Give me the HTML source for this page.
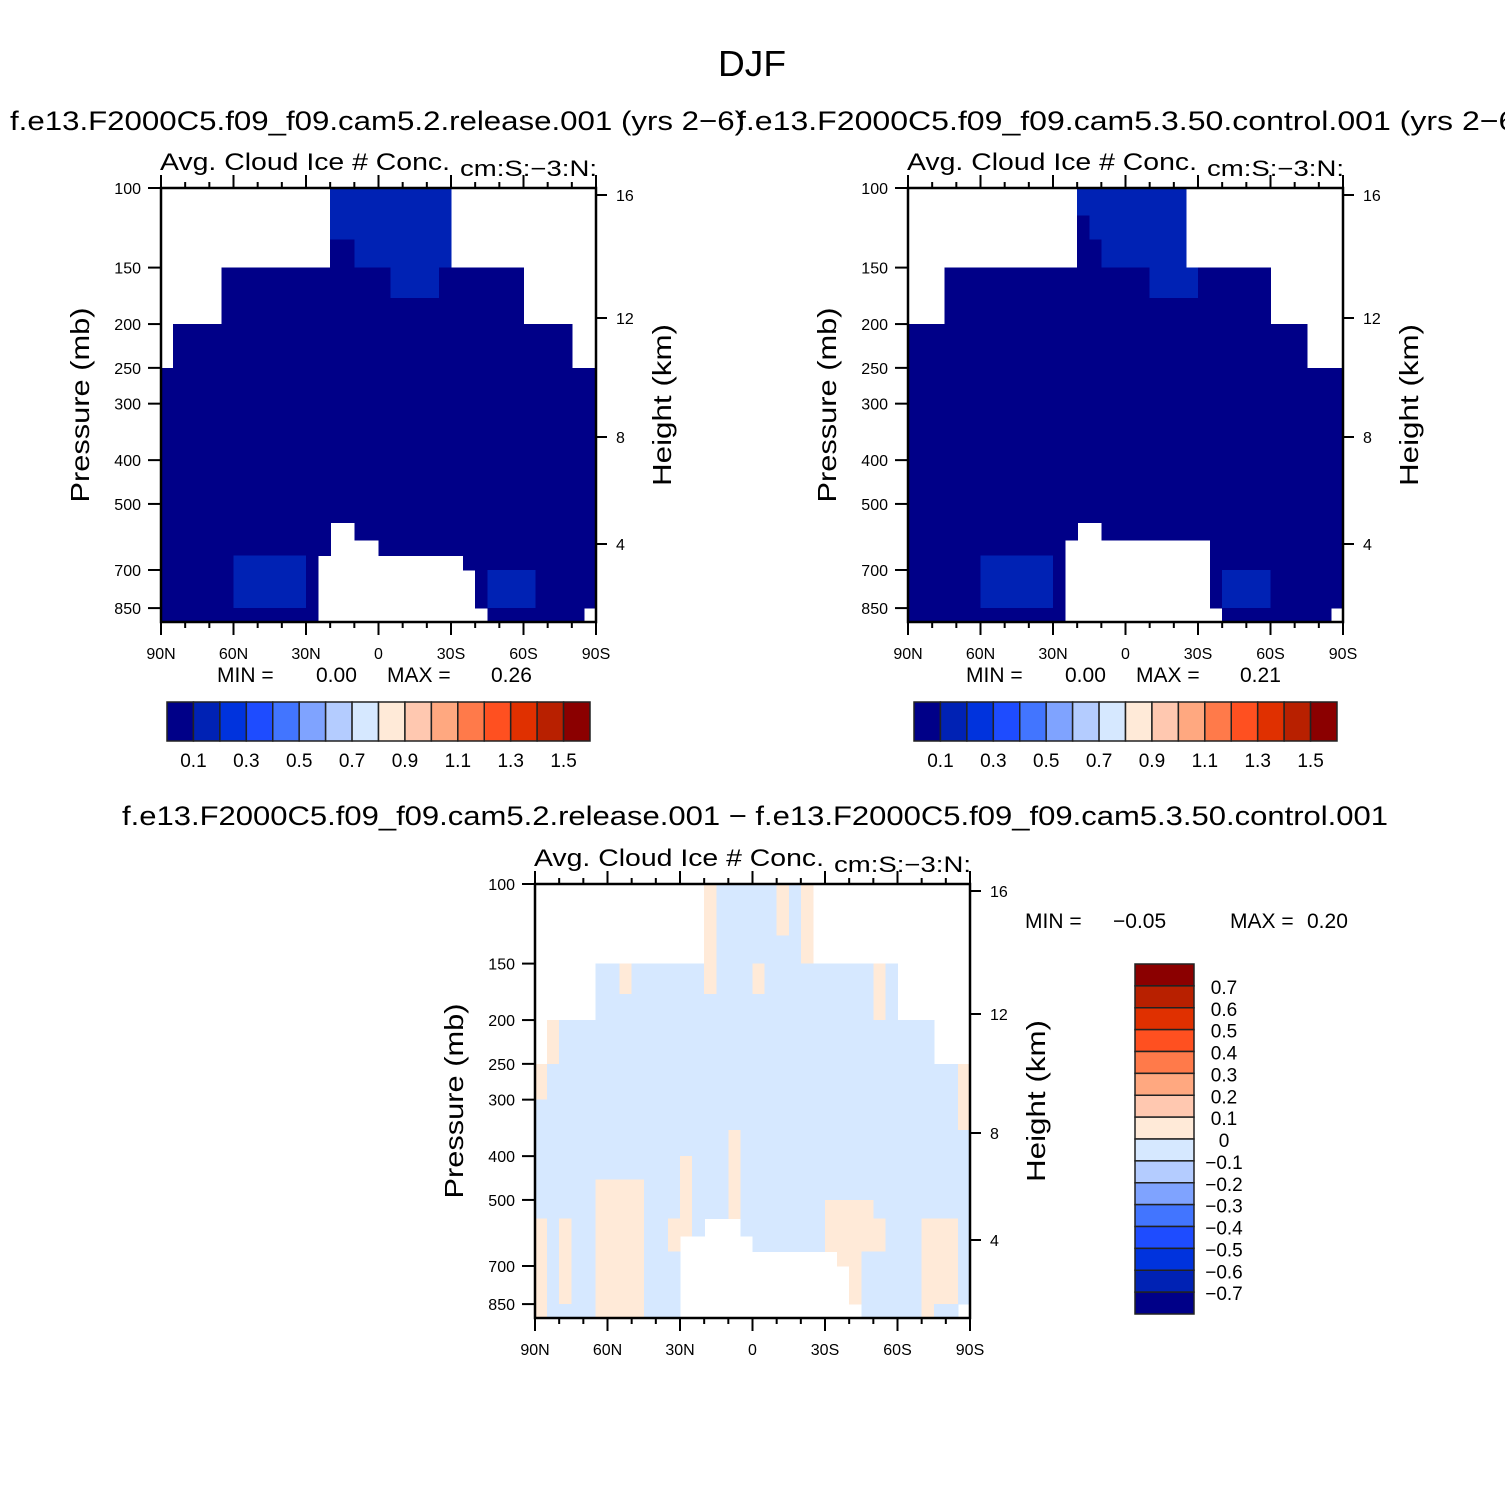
<!DOCTYPE html>
<html><head><meta charset="utf-8"><style>
html,body{margin:0;padding:0;background:#fff}
svg{display:block}
text{font-family:"Liberation Sans",sans-serif;fill:#000}
</style></head><body>
<svg id="chart" width="1505" height="1505" viewBox="0 0 1505 1505" xmlns="http://www.w3.org/2000/svg">
<rect width="1505" height="1505" fill="#fff"/>
<text x="752" y="76" text-anchor="middle" font-size="36" textLength="68" lengthAdjust="spacingAndGlyphs">DJF</text>
<text x="10" y="130" font-size="27" textLength="735" lengthAdjust="spacingAndGlyphs">f.e13.F2000C5.f09_f09.cam5.2.release.001  (yrs 2−6)</text>
<text x="737" y="130" font-size="27" textLength="790" lengthAdjust="spacingAndGlyphs">f.e13.F2000C5.f09_f09.cam5.3.50.control.001  (yrs 2−6)</text>
<text x="122" y="825" font-size="27" textLength="1266" lengthAdjust="spacingAndGlyphs">f.e13.F2000C5.f09_f09.cam5.2.release.001  −  f.e13.F2000C5.f09_f09.cam5.3.50.control.001</text>
<g id="layer"></g>
</svg>
<script>
// ---- data ----
const pressureEdges=[100,115,130,150,175,200,225,250,300,350,400,450,500,550,600,650,700,775,850,912];
const colCount=36; // 5-degree latitude bands 90N -> 90S
const valueOf={'0':0.05,'1':0.15,'b':-0.05,'p':0.05};
const panel1Rows=[
"..............1111111111............",
"..............1111111111............",
"..............0011111111............",
".....0000000000000011110000000......",
".....0000000000000000000000000......",
".000000000000000000000000000000000..",
".000000000000000000000000000000000..",
"000000000000000000000000000000000000",
"000000000000000000000000000000000000",
"000000000000000000000000000000000000",
"000000000000000000000000000000000000",
"000000000000000000000000000000000000",
"000000000000000000000000000000000000",
"00000000000000..00000000000000000000",
"00000000000000....000000000000000000",
"0000001111110............00000000000",
"0000001111110.............0111100000.",
"0000001111110.............0111100000.",
"0000000000000..............00000000."];
const panel2Rows=[
"..............111111111.............",
"..............011111111.............",
"..............001111111.............",
"...000000000000000001111000000......",
"...000000000000000000000000000......",
"000000000000000000000000000000000...",
"000000000000000000000000000000000...",
"000000000000000000000000000000000000",
"000000000000000000000000000000000000",
"000000000000000000000000000000000000",
"000000000000000000000000000000000000",
"000000000000000000000000000000000000",
"000000000000000000000000000000000000",
"00000000000000..00000000000000000000",
"0000000000000............00000000000",
"0000001111110............00000000000",
"0000001111110............01111000000.",
"0000001111110............01111000000.",
"0000000000000.............000000000."];
const panel3Rows=[
"..............pbbbbbpbp.............",
"..............pbbbbbpbp.............",
"..............pbbbbbbbp.............",
".....bbpbbbbbbpbbbpbbbbbbbbbpb......",
".....bbbbbbbbbbbbbbbbbbbbbbbpb......",
".pbbbbbbbbbbbbbbbbbbbbbbbbbbbbbbb..",
".pbbbbbbbbbbbbbbbbbbbbbbbbbbbbbbb..",
"pbbbbbbbbbbbbbbbbbbbbbbbbbbbbbbbbbbp",
"bbbbbbbbbbbbbbbbbbbbbbbbbbbbbbbbbbbp",
"bbbbbbbbbbbbbbbbpbbbbbbbbbbbbbbbbbbb",
"bbbbbbbbbbbbpbbbpbbbbbbbbbbbbbbbbbbb",
"bbbbbppppbbbpbbbpbbbbbbbbbbbbbbbbbbb",
"bbbbbppppbbbpbbbpbbbbbbbppppbbbbbbbb",
"pbpbbppppbbppb...bbbbbbbpppppbbbpppb",
"pbpbbppppbbp......bbbbbbpppppbbbpppb",
"pbpbbppppbbb.............ppbbbbbpppb",
"pbpbbppppbbb..............pbbbbbpppb",
"pbpbbppppbbb..............pbbbbbpppb",
"pbbbbppppbbb...............bbbbbpbb."];
const levelsA=[0.1,0.2,0.3,0.4,0.5,0.6,0.7,0.8,0.9,1.0,1.1,1.2,1.3,1.4,1.5];
const levelsDiff=[-0.7,-0.6,-0.5,-0.4,-0.3,-0.2,-0.1,0,0.1,0.2,0.3,0.4,0.5,0.6,0.7];
const cbLabelsA=["0.1","0.3","0.5","0.7","0.9","1.1","1.3","1.5"];
const cbLabelsDiff=["0.7","0.6","0.5","0.4","0.3","0.2","0.1","0","−0.1","−0.2","−0.3","−0.4","−0.5","−0.6","−0.7"];
const pressureTicks=[100,150,200,250,300,400,500,700,850];
const heightTicks=[16,12,8,4];
const heightTickOffsets=[7,130,249,356];
const latMajor=[90,60,30,0,-30,-60,-90];
const latLabels=["90N","60N","30N","0","30S","60S","90S"];
const palette=["#000088","#0022b4","#0033dd","#1e4cff","#4275ff","#7fa3ff","#b4ccff","#d6e8ff","#ffead8","#ffc8b0","#ffa880","#ff7a4a","#ff5020","#e03000","#b82000","#8b0000"];

const NS="http://www.w3.org/2000/svg";
const layer=document.getElementById('layer');
function mk(tag,attrs,parent){const e=document.createElementNS(NS,tag);for(const k in attrs)e.setAttribute(k,attrs[k]);(parent||layer).appendChild(e);return e;}
function colorFor(v,levels){let i=0;for(const l of levels){if(v>=l-1e-9)i++;}return palette[i];}

function drawPanel(x0,y0,rows,levels,tag){
  const w=435,h=434,ppd=452;
  const xs=lat=>x0+(90-lat)/180*w;
  const ys=p=>y0+Math.log10(p/100)*ppd;
  const g=mk('g',{});
  
  
  for(let r=0;r<rows.length;r++){
    const row=rows[r];
    const yA=ys(pressureEdges[r]),yB=Math.min(ys(pressureEdges[r+1]),y0+h);
    for(let c=0;c<colCount;c++){
      const ch=row[c];
      if(!ch||ch==='.')continue;
      const xa=xs(90-c*5),xb=xs(90-(c+1)*5);
      const rc=mk('rect',{x:xa,y:yA,width:xb-xa+0.6,height:yB-yA+0.6,fill:colorFor(valueOf[ch],levels),'shape-rendering':'crispEdges'},g);
      
      
    }
  }
  const fr=mk('rect',{x:x0,y:y0,width:w,height:h,fill:'none',stroke:'#000','stroke-width':2.5},g);
  
  
  for(let lat=90;lat>=-90;lat-=10){
    const x=xs(lat),maj=(lat%30===0);
    const L=maj?13:6;
    mk('line',{x1:x,y1:y0,x2:x,y2:y0-L,stroke:'#000','stroke-width':2},g);
    mk('line',{x1:x,y1:y0+h,x2:x,y2:y0+h+L,stroke:'#000','stroke-width':2},g);
  }
  latMajor.forEach((lat,i)=>{
    const t=mk('text',{x:xs(lat),y:y0+h+37,'text-anchor':'middle','font-size':16},g);
    t.textContent=latLabels[i];
    
    
  });
  pressureTicks.forEach(p=>{
    const y=ys(p);
    mk('line',{x1:x0,y1:y,x2:x0-13,y2:y,stroke:'#000','stroke-width':2},g);
    const t=mk('text',{x:x0-20,y:y+6,'text-anchor':'end','font-size':16},g);
    t.textContent=p;
    
    
  });
  heightTicks.forEach((z,i)=>{
    const y=y0+heightTickOffsets[i];
    mk('line',{x1:x0+w,y1:y,x2:x0+w+11,y2:y,stroke:'#000','stroke-width':2},g);
    const t=mk('text',{x:x0+w+20,y:y+6,'font-size':16},g);
    t.textContent=z;
    
    
  });
  let t=mk('text',{x:x0-1,y:y0-18,'font-size':24,textLength:290,lengthAdjust:'spacingAndGlyphs'},g);
  t.textContent='Avg. Cloud Ice # Conc.';
  
  
  t=mk('text',{x:x0+299,y:y0-12,'font-size':22,textLength:137,lengthAdjust:'spacingAndGlyphs'},g);
  t.textContent='cm:S:−3:N:';
  
  
  t=mk('text',{x:0,y:0,'font-size':26,'text-anchor':'middle',textLength:195,lengthAdjust:'spacingAndGlyphs',transform:`translate(${x0-72},${y0+217}) rotate(-90)`},g);
  t.textContent='Pressure (mb)';
  
  
  t=mk('text',{x:0,y:0,'font-size':26,'text-anchor':'middle',textLength:162,lengthAdjust:'spacingAndGlyphs',transform:`translate(${x0+w+75},${y0+217}) rotate(-90)`},g);
  t.textContent='Height (km)';
  
  
}

function minmax(x,y,minStr,maxStr,offs){
  const parts=[['MIN  =',0],[minStr,offs[0]],['MAX  =',offs[2]],[maxStr,offs[4]]];
  parts.forEach(p=>{
    const t=mk('text',{x:x+p[1],y:y,'font-size':21});
    t.textContent=p[0];
    
    
  });
}

function hColorbar(x0,y0,tag){
  const w=423,h=39,n=16,bw=w/n;
  for(let i=0;i<n;i++){
    const r=mk('rect',{x:x0+i*bw,y:y0,width:bw,height:h,fill:palette[i],stroke:'#222','stroke-width':1.5});
    
    
  }
  cbLabelsA.forEach((s,i)=>{
    const t=mk('text',{x:x0+(2*i+1)*bw,y:y0+65,'text-anchor':'middle','font-size':19});
    t.textContent=s;
    
    
  });
}
function vColorbar(x0,y0){
  const w=59,bh=350/16;
  for(let i=0;i<16;i++){
    const r=mk('rect',{x:x0,y:y0+i*bh,width:w,height:bh,fill:palette[15-i],stroke:'#222','stroke-width':1.5});
    
    
  }
  cbLabelsDiff.forEach((s,i)=>{
    const t=mk('text',{x:x0+89,y:y0+(i+1)*bh+8,'text-anchor':'middle','font-size':19});
    t.textContent=s;
    
    
  });
}

drawPanel(161,188,panel1Rows,levelsA,'panel1');
drawPanel(908,188,panel2Rows,levelsA,'panel2');
drawPanel(535,884,panel3Rows,levelsDiff,'panel3');
minmax(217,682,'0.00','0.26',[99,147,170,240,274,323]);
minmax(966,682,'0.00','0.21',[99,147,170,240,274,323]);
minmax(1025,928,'−0.05','0.20',[88,155,205,248,282,330]);
hColorbar(167,702,'panel1-colorbar');
hColorbar(914,702,'panel2-colorbar');
vColorbar(1135,964);
</script>
</body></html>
